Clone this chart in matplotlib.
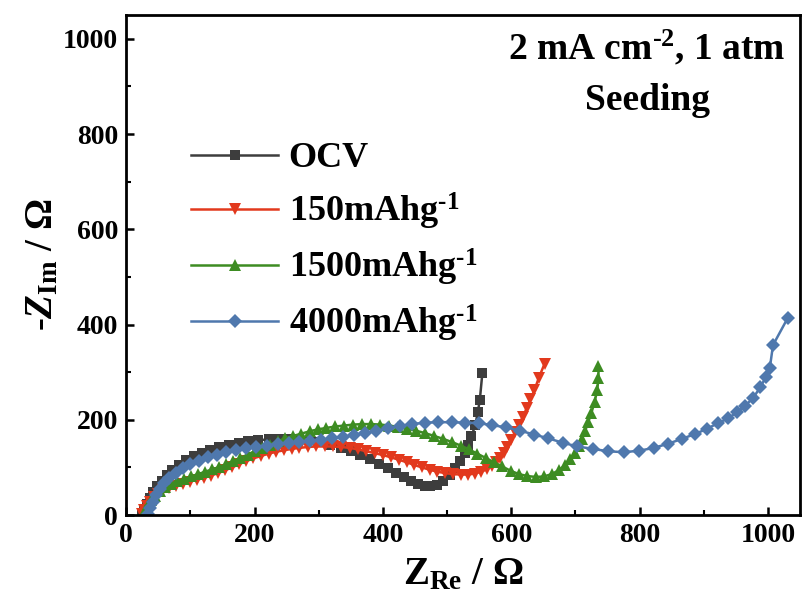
import numpy as np
import matplotlib
matplotlib.use("Agg")
import matplotlib.pyplot as plt

# --- DATA (Nyquist plots) ---
ocv_x = [25, 28, 32, 37, 42, 48, 55, 63, 72, 82, 93, 105, 118, 131, 145, 160, 175, 190, 206, 222,
         238, 254, 270, 286, 302, 318, 334, 350, 365, 380, 394, 408, 421, 433, 444, 455, 465, 474,
         484, 494, 505, 512, 520, 528, 533, 538, 544, 548, 551, 555]
ocv_y = [2, 12, 24, 36, 48, 60, 72, 84, 95, 105, 115, 123, 131, 137, 143, 148, 152, 155, 157, 159,
         160, 160, 159, 157, 153, 148, 141, 134, 126, 118, 108, 98, 88, 79, 71, 65, 61, 60,
         64, 72, 84, 98, 113, 130, 147, 165, 189, 217, 241, 298]

c150_x = [25, 28, 32, 37, 43, 50, 58, 67, 77, 88, 99, 110, 121, 132, 143, 154, 165, 176, 187, 198,
          210, 222, 234, 246, 258, 270, 283, 296, 309, 322, 335, 348, 361, 374, 387, 400, 413, 425,
          437, 449, 461, 473, 485, 497, 509, 521, 532, 543, 553, 562, 570, 577, 583, 589, 594, 600,
          606, 612, 618, 624, 630, 636, 643, 652]
c150_y = [2, 10, 19, 28, 37, 45, 52, 57, 62, 66, 70, 74, 78, 83, 88, 94, 100, 107, 113, 119,
          124, 129, 133, 136, 139, 141, 143, 144, 144, 144, 143, 141, 138, 134, 130, 126, 121, 116,
          111, 105, 100, 95, 91, 88, 86, 85, 85, 87, 91, 96, 103, 111, 120, 131, 143, 158,
          174, 190, 206, 224, 243, 262, 288, 318]

c1500_x = [27, 30, 34, 39, 45, 52, 60, 69, 79, 90, 101, 112, 123, 134, 145, 156, 167, 178, 189, 200,
           212, 224, 236, 248, 260, 273, 286, 299, 312, 326, 340, 354, 368, 382, 396, 410, 424, 438,
           452, 466, 480, 494, 508, 521, 534, 547, 560, 573, 586, 599, 612, 625, 638, 651, 663, 674,
           684, 692, 699, 705, 710, 715, 720, 725, 730, 734, 736, 736]
c1500_y = [2, 11, 21, 31, 41, 50, 58, 65, 71, 76, 81, 86, 91, 96, 101, 107, 113, 120, 127, 134,
           141, 148, 155, 161, 166, 171, 176, 180, 183, 186, 188, 190, 191, 191, 190, 188, 185, 181,
           177, 172, 166, 160, 153, 146, 138, 129, 120, 111, 102, 93, 86, 82, 80, 81, 86, 94,
           105, 117, 130, 144, 159, 176, 195, 215, 238, 262, 288, 312]

c4000_x = [34, 37, 41, 46, 52, 59, 67, 77, 88, 100, 113, 127, 141, 156, 171, 187, 203, 219, 236, 253,
           270, 287, 304, 321, 338, 355, 372, 390, 408, 426, 445, 465, 486, 507, 528, 549, 570, 592,
           614, 636, 658, 680, 703, 727, 751, 775, 799, 822, 845, 866, 886, 905, 922, 938, 952, 965,
           977, 988, 997, 1003, 1008, 1031]
c4000_y = [2, 14, 28, 42, 55, 67, 78, 89, 99, 107, 114, 121, 127, 132, 136, 140, 143, 146, 149, 152,
           154, 156, 158, 161, 164, 168, 172, 177, 182, 187, 191, 194, 195, 195, 194, 193, 189, 184,
           177, 169, 161, 152, 144, 139, 134, 132, 135, 141, 150, 160, 170, 181, 193, 203, 216, 230,
           246, 268, 290, 309, 357, 414]

labels = ["OCV", r"150mAhg$^{\text{-}1}$", r"1500mAhg$^{\text{-}1}$", r"4000mAhg$^{\text{-}1}$"]
colors = ["#3d3d3d", "#e2391d", "#3d8c22", "#4f78ad"]
markers = ["s", "v", "^", "D"]
msizes = [7, 9, 9, 7.5]

# --- STYLE ---
plt.rcParams["font.family"] = ["Liberation Serif", "DejaVu Serif"]
plt.rcParams["font.weight"] = "bold"
plt.rcParams["mathtext.fontset"] = "custom"
plt.rcParams["mathtext.rm"] = "Liberation Serif:bold"
plt.rcParams["mathtext.bf"] = "Liberation Serif:bold"
plt.rcParams["mathtext.it"] = "Liberation Serif:bold:italic"
plt.rcParams["mathtext.default"] = "bf"

fig = plt.figure(figsize=(8.04, 6.01), dpi=100)
ax = fig.add_axes([0.157, 0.143, 0.838, 0.832])

series = [(ocv_x, ocv_y), (c150_x, c150_y), (c1500_x, c1500_y), (c4000_x, c4000_y)]
for (xs, ys), lab, c, m, ms in zip(series, labels, colors, markers, msizes):
    ax.plot(xs, ys, color=c, marker=m, markersize=ms, lw=1.8, label=lab,
            markeredgewidth=0)

ax.set_xlim(0, 1050)
ax.set_ylim(0, 1050)
ax.set_xticks(np.arange(0, 1001, 200))
ax.set_yticks(np.arange(0, 1001, 200))
ax.set_xticks(np.arange(100, 1001, 200), minor=True)
ax.set_yticks(np.arange(100, 1001, 200), minor=True)
ax.tick_params(which="major", direction="in", length=6, width=1.8, labelsize=20, pad=6)
ax.tick_params(which="minor", direction="in", length=3.5, width=1.5)
for lab in ax.get_xticklabels() + ax.get_yticklabels():
    lab.set_fontweight("bold")
for sp in ax.spines.values():
    sp.set_linewidth(2)

ax.set_xlabel(r"Z$_{\mathbf{Re}}$ / Ω", fontsize=28, fontweight="bold", labelpad=6)
ax.set_ylabel(r"-$\mathit{Z}_{\mathbf{Im}}$ / Ω", fontsize=28, fontweight="bold", labelpad=1)

ax.text(0.773, 0.935, r"2 mA cm$^{\text{-}2}$, 1 atm", transform=ax.transAxes,
        ha="center", va="center", fontsize=27, fontweight="bold")
ax.text(0.773, 0.83, "Seeding", transform=ax.transAxes,
        ha="center", va="center", fontsize=27, fontweight="bold")

leg = ax.legend(loc="upper left", bbox_to_anchor=(0.075, 0.775), frameon=False, numpoints=1,
                fontsize=26, handlelength=2.4, handletextpad=0.3, labelspacing=0.42,
                borderaxespad=0)

fig.savefig("out.png", dpi=100)
